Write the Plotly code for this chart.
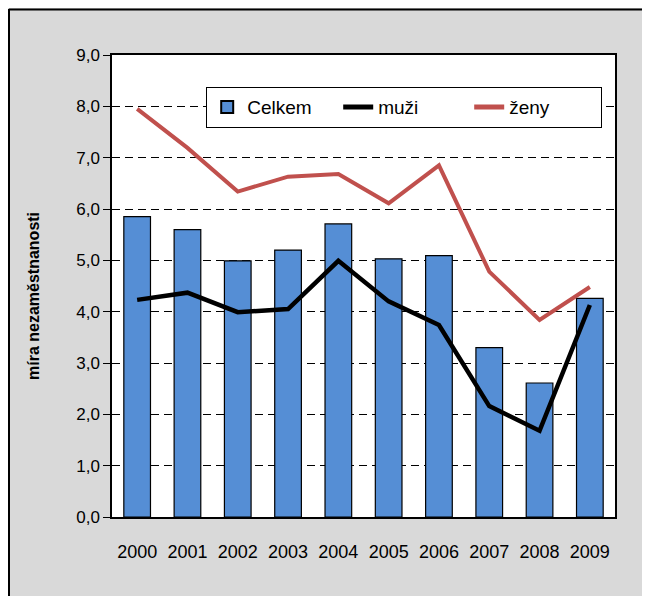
import plotly.graph_objects as go

years = ["2000", "2001", "2002", "2003", "2004", "2005", "2006", "2007", "2008", "2009"]
celkem = [5.85, 5.60, 4.99, 5.20, 5.71, 5.03, 5.09, 3.30, 2.61, 4.26]
muzi = [4.23, 4.37, 3.99, 4.05, 4.99, 4.20, 3.74, 2.16, 1.68, 4.13]
zeny = [7.95, 7.19, 6.34, 6.63, 6.68, 6.11, 6.85, 4.78, 3.84, 4.48]
y_ticks = [0, 1, 2, 3, 4, 5, 6, 7, 8, 9]

FONT = "Liberation Sans, Arial, sans-serif"
BLUE = "#558ed5"
RED = "#c0504d"

fig = go.Figure()
fig.add_trace(go.Bar(
    x=years, y=celkem, name="Celkem", width=0.53,
    marker=dict(color=BLUE, line=dict(color="black", width=1.2)),
))
fig.add_trace(go.Scatter(
    x=years, y=muzi, name="muži", mode="lines", showlegend=False,
    line=dict(color="black", width=4.5),
))
fig.add_trace(go.Scatter(
    x=years, y=zeny, name="ženy", mode="lines", showlegend=False,
    line=dict(color=RED, width=4),
))
# legend-only entries with thin lines, as in the reference legend
fig.add_trace(go.Scatter(
    x=[None], y=[None], name="muži", mode="lines",
    line=dict(color="black", width=1.5),
))
fig.add_trace(go.Scatter(
    x=[None], y=[None], name="ženy", mode="lines",
    line=dict(color=RED, width=2),
))

W, H = 642, 588
L, R, T, B = 104, 35, 47, 79
pw, ph = W - L - R, H - T - B

def px_x(p):
    return (p - L) / pw

def px_y(p):
    return (H - B - p) / ph

fig.update_layout(
    width=W, height=H,
    margin=dict(l=L, r=R, t=T, b=B, autoexpand=False),
    paper_bgcolor="#d9d9d9",
    plot_bgcolor="white",
    separators=", ",
    font=dict(family=FONT, size=17, color="black"),
    showlegend=True,
    legend=dict(
        orientation="h", x=px_x(198), y=px_y(79), xanchor="left", yanchor="top",
        bgcolor="white", bordercolor="black", borderwidth=1.2,
        font=dict(family=FONT, size=19, color="black"),
        entrywidth=86, entrywidthmode="pixels",
        itemsizing="constant",
    ),
    shapes=[
        dict(type="line", xref="paper", yref="paper", layer="above",
             x0=px_x(1), x1=px_x(1), y0=px_y(700), y1=px_y(1),
             line=dict(color="black", width=2)),
        dict(type="line", xref="paper", yref="paper", layer="above",
             x0=px_x(1), x1=px_x(800), y0=px_y(1.5), y1=px_y(1.5),
             line=dict(color="black", width=2)),
    ],
    annotations=[
        dict(
            text="míra nezaměstnanosti", textangle=-90, showarrow=False,
            xref="paper", yref="paper", x=px_x(25), y=px_y(288),
            xanchor="center", yanchor="middle",
            font=dict(family=FONT, size=16, color="black", weight="bold"),
        ),
        dict(
            text="Praha", showarrow=False,
            xref="paper", yref="paper", x=px_x(152), y=px_y(4),
            xanchor="center", yanchor="bottom",
            font=dict(family=FONT, size=18, color="black", weight="bold"),
        ),
    ],
)

fig.update_yaxes(
    range=[0, 9], tickvals=y_ticks, tickformat=".1f",
    ticks="outside", ticklen=7, tickcolor="black", tickwidth=1.2,
    showline=True, linecolor="black", linewidth=1.5, mirror=True,
    showgrid=True, gridcolor="black", gridwidth=1.2, griddash="8px,5px",
    zeroline=False,
    tickfont=dict(family=FONT, size=17, color="black"),
)
fig.update_xaxes(
    type="category",
    ticks="outside", ticklen=18, tickcolor="rgba(0,0,0,0)",
    showline=True, linecolor="black", linewidth=1.5, mirror=True,
    showgrid=False,
    tickfont=dict(family=FONT, size=18, color="black"),
)

fig.write_html("out.html")
